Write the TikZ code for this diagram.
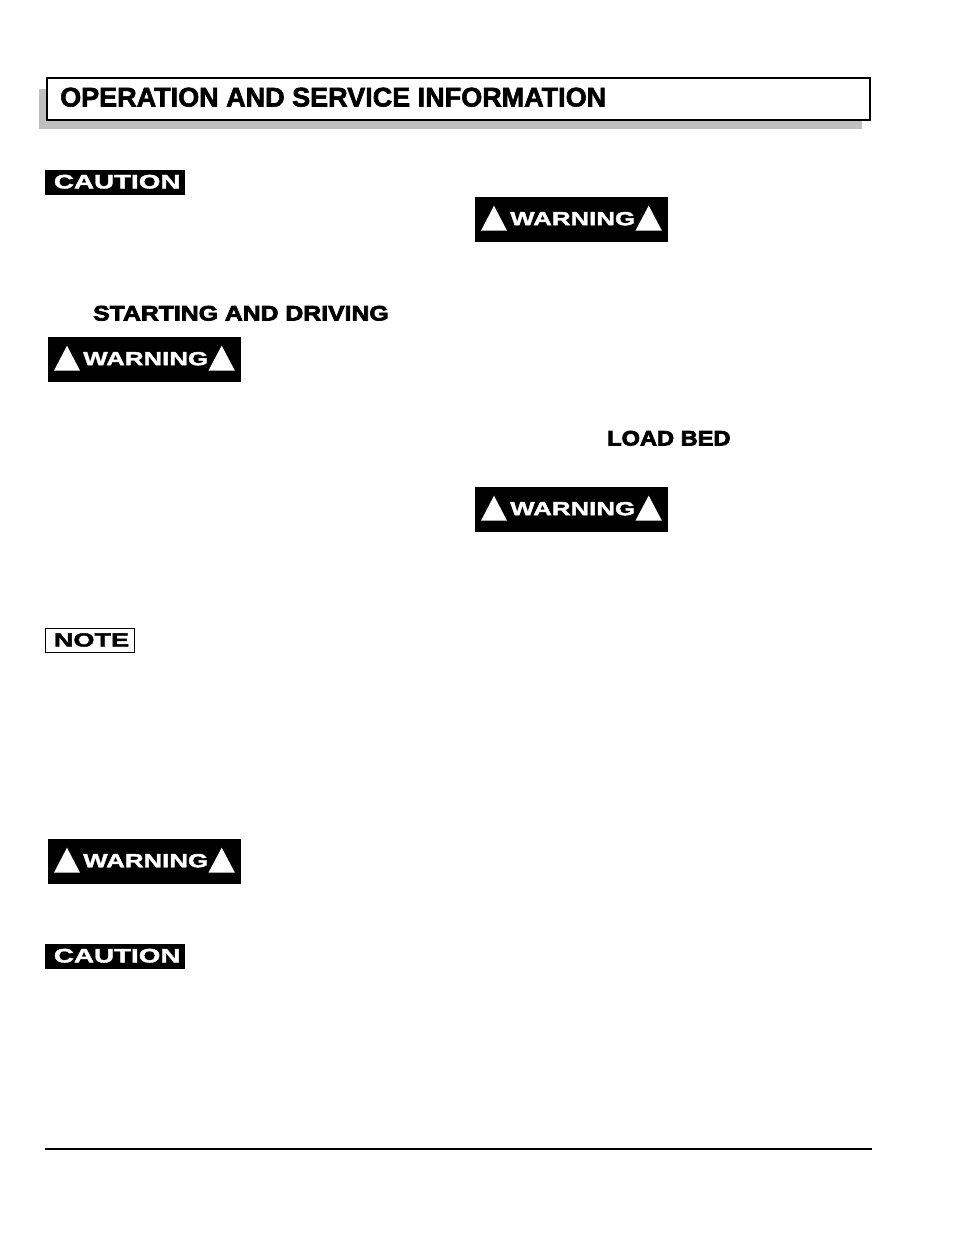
\documentclass[tikz,border=0pt]{standalone}
\usepackage{fontspec}
\usetikzlibrary{calc}
\setmainfont{Liberation Sans}
\newfontfamily\headfont[BoldFeatures={FakeStretch=1.0,FakeBold=2.2}]{Liberation Sans}
\newfontfamily\subfont[BoldFeatures={FakeStretch=1.18,FakeBold=3.5}]{Liberation Sans}
\newfontfamily\loadfont[BoldFeatures={FakeStretch=1.125,FakeBold=3.5}]{Liberation Sans}
\newfontfamily\badgefont[BoldFeatures={FakeStretch=1.36,FakeBold=2}]{Liberation Sans}
\newfontfamily\cautionfont[BoldFeatures={FakeStretch=1.425,FakeBold=2}]{Liberation Sans}
\tikzset{
  x=1pt,y=-1pt,
  badge/.style={fill=black,draw=none,inner sep=0pt,minimum height=#1,anchor=north west},
  badgetext/.style={text=white,inner sep=0pt,anchor=center,font=\badgefont\bfseries\fontsize{19}{19}\selectfont},
  cautiontext/.style={text=white,inner sep=0pt,anchor=center,font=\cautionfont\bfseries\fontsize{19.5}{19.5}\selectfont},
  tri/.style={fill=white,draw=none},
  heading/.style={inner sep=0pt,anchor=base west,text=black},
}
\begin{document}
\begin{tikzpicture}
\useasboundingbox[fill=white] (0,0) rectangle (954,1235);
% title bar
\fill[fill={rgb,255:red,191;green,191;blue,191}] (39,89) rectangle (862,129);
\node[draw=black,fill=white,line width=2pt,inner sep=0pt,minimum width=823pt,minimum height=42pt,anchor=north west] (title) at (46,77) {};
\node[inner sep=0pt,anchor=base west,font=\headfont\bfseries\fontsize{27}{27}\selectfont] (titletext) at (60,106.5) {OPERATION AND SERVICE INFORMATION};
% cautions
\foreach \n/\y in {ca/170,cb/944}{
  \node[badge=25pt,minimum width=140pt] (\n) at (45,\y) {};
  \node[cautiontext] at ($(\n.center)+(2,-1)$) {CAUTION};
}
% warnings
\foreach \n/\x/\y in {wa/48/337,wb/475/197,wc/475/487,wd/48/839}{
  \node[badge=45pt,minimum width=193pt] (\n) at (\x,\y) {};
  \node[badgetext] at ($(\n.center)+(1,-1)$) {WARNING};
  \fill[tri] ($(\n.west)+(6,11)$) -- ($(\n.west)+(32,11)$) -- ($(\n.west)+(19,-14)$) -- cycle;
  \fill[tri] ($(\n.east)+(-6.5,11)$) -- ($(\n.east)+(-33,11)$) -- ($(\n.east)+(-19.7,-14)$) -- cycle;
}
% note
\node[draw=black,fill=white,line width=1pt,inner sep=0pt,minimum width=89pt,minimum height=23.5pt,anchor=north west] (note) at (45,628.2) {};
\node[inner sep=0pt,font=\cautionfont\bfseries\fontsize{19}{19}\selectfont] at ($(note.center)+(1.5,-0.5)$) {NOTE};
% headings
\node[heading,font=\subfont\bfseries\fontsize{21}{21}\selectfont] (start) at (93,320.5) {STARTING AND DRIVING};
\node[heading,font=\loadfont\bfseries\fontsize{21}{21}\selectfont] (load) at (607,445.5) {LOAD BED};
% footer rule
\coordinate (rulea) at (45,1149);
\coordinate (ruleb) at (872,1149);
\draw[line width=2pt] (rulea) -- (ruleb);
\end{tikzpicture}
\end{document}
